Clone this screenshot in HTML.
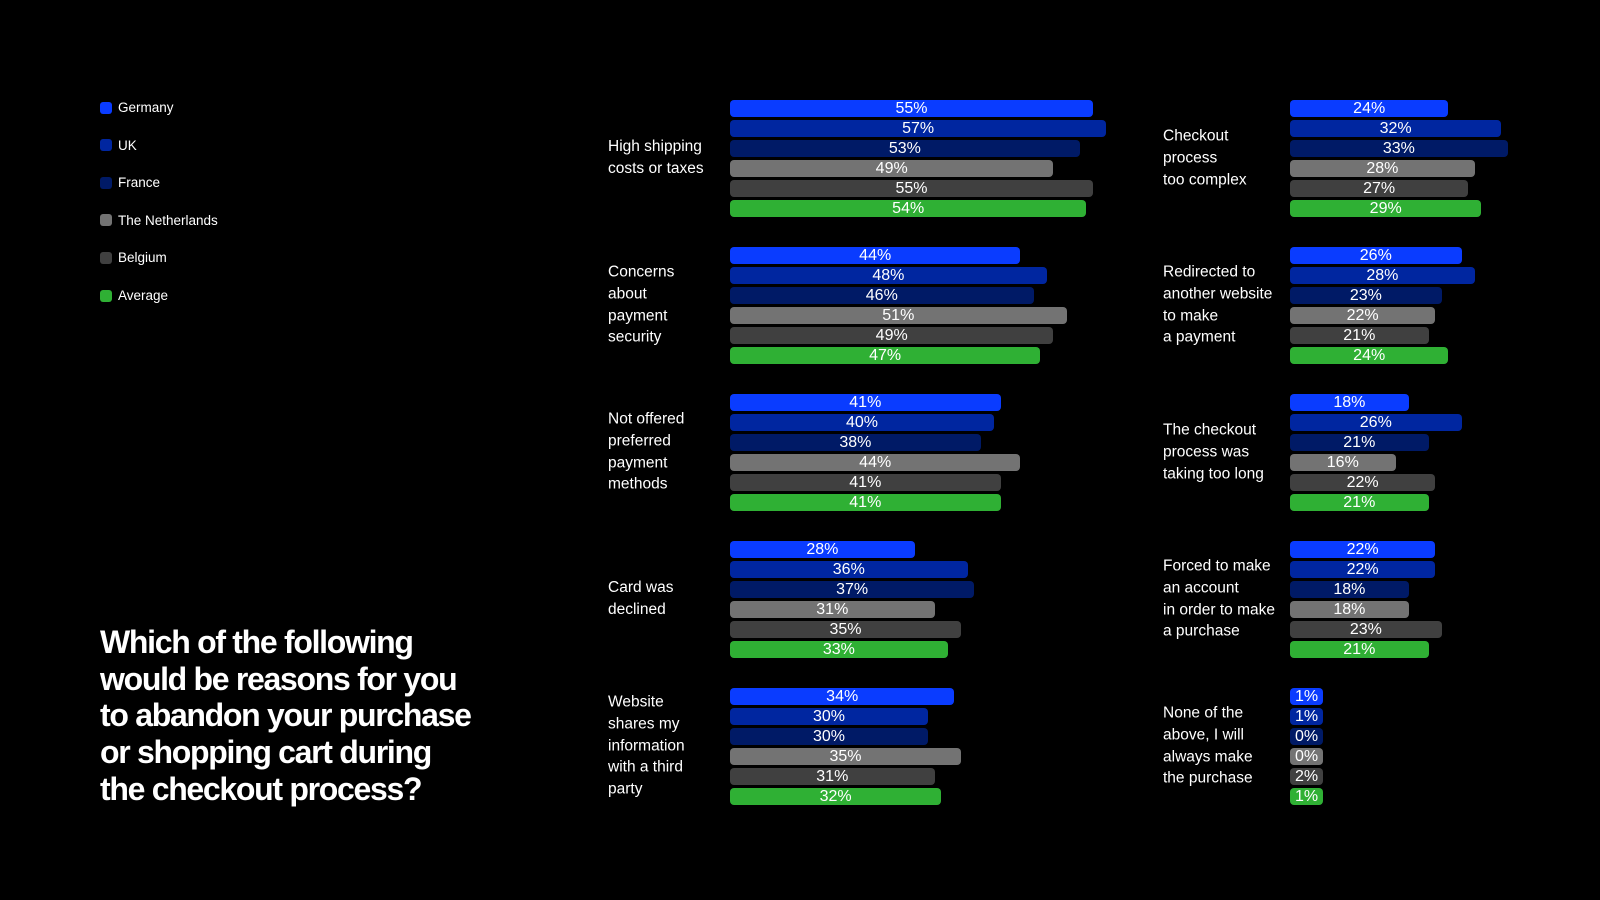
<!DOCTYPE html>
<html><head><meta charset="utf-8"><style>
body{margin:0;width:1600px;height:900px;background:#000;overflow:hidden;font-family:"Liberation Sans",sans-serif;color:#fff;position:relative}
.leg{position:absolute;left:100px;font-size:13.5px;display:flex;align-items:center;gap:6px}
.sw{width:12px;height:12px;border-radius:3px}
.title{position:absolute;left:100px;top:624px;font-size:32px;font-weight:bold;line-height:36.7px;letter-spacing:-1.3px}
.lab{position:absolute;font-size:15.5px;line-height:21.8px;transform:translateY(-50%)}
.bar{position:absolute;height:17px;border-radius:4px;font-size:16px;line-height:17px;text-align:center}
</style></head><body>
<div id="legend"></div>
<div class="title">Which of the following<br>would be reasons for you<br>to abandon your purchase<br>or shopping cart during<br>the checkout process?</div>
<div id="chart"></div>
<script>
const series=["Germany","UK","France","The Netherlands","Belgium","Average"];
const colors=["#0a3cff","#0026a0","#001a66","#737373","#404040","#2fb034"];
const leftCats=["High shipping<br>costs or taxes","Concerns<br>about<br>payment<br>security","Not offered<br>preferred<br>payment<br>methods","Card was<br>declined","Website<br>shares my<br>information<br>with a third<br>party"];
const leftVals=[[55,57,53,49,55,54],[44,48,46,51,49,47],[41,40,38,44,41,41],[28,36,37,31,35,33],[34,30,30,35,31,32]];
const rightCats=["Checkout<br>process<br>too complex","Redirected to<br>another website<br>to make<br>a payment","The checkout<br>process was<br>taking too long","Forced to make<br>an account<br>in order to make<br>a purchase","None of the<br>above, I will<br>always make<br>the purchase"];
const rightVals=[[24,32,33,28,27,29],[26,28,23,22,21,24],[18,26,21,16,22,21],[22,22,18,18,23,21],[1,1,0,0,2,1]];
const leg=document.getElementById('legend');
series.forEach((s,i)=>{const d=document.createElement('div');d.className='leg';d.style.top=(100+i*37.6)+'px';


d.innerHTML='<span class="sw" style="background:'+colors[i]+'"></span>'+s;leg.appendChild(d);});
const ch=document.getElementById('chart');
const pxPer=6.6,minW=33;
function panel(cats,vals,labX,barX){
cats.forEach((c,g)=>{const top=100+g*147;
const l=document.createElement('div');l.className='lab';l.style.left=labX+'px';l.style.top=(top+58)+'px';l.innerHTML=c;


ch.appendChild(l);
vals[g].forEach((v,i)=>{const b=document.createElement('div');b.className='bar';
b.style.left=barX+'px';b.style.top=(top+i*20)+'px';b.style.width=Math.max(minW,v*pxPer)+'px';b.style.background=colors[i];b.textContent=v+'%';


ch.appendChild(b);});});}
panel(leftCats,leftVals,608,730);
panel(rightCats,rightVals,1163,1290);
</script>
</body></html>
